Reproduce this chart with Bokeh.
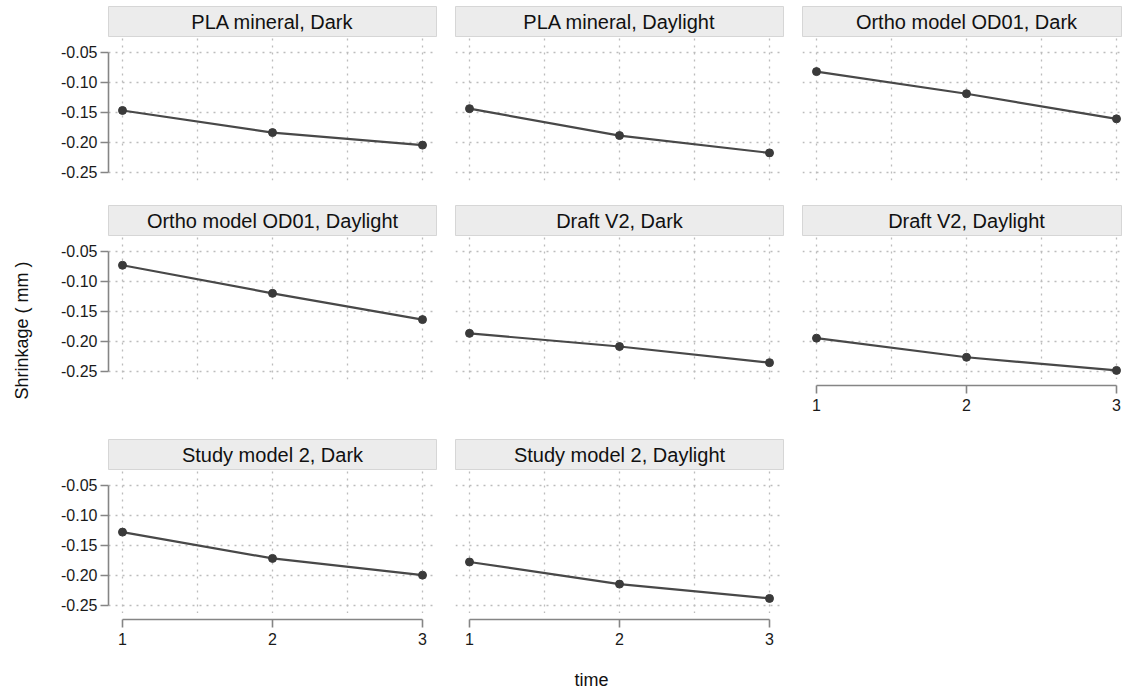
import math
from bokeh.plotting import figure
from bokeh.models import Range1d, LinearAxis, FixedTicker, NumeralTickFormatter, Label, Grid
from bokeh.layouts import row, column
from bokeh.embed import file_html
from bokeh.resources import INLINE

# ---------------- data ----------------
times = [1, 2, 3]
panel_titles = [
    "PLA mineral, Dark", "PLA mineral, Daylight", "Ortho model OD01, Dark",
    "Ortho model OD01, Daylight", "Draft V2, Dark", "Draft V2, Daylight",
    "Study model 2, Dark", "Study model 2, Daylight",
]
pla_dark = [-0.147, -0.184, -0.205]
pla_daylight = [-0.144, -0.189, -0.218]
ortho_dark = [-0.082, -0.119, -0.161]
ortho_daylight = [-0.073, -0.120, -0.164]
draft_dark = [-0.187, -0.209, -0.236]
draft_daylight = [-0.195, -0.227, -0.249]
study_dark = [-0.128, -0.172, -0.200]
study_daylight = [-0.178, -0.215, -0.239]
series = [pla_dark, pla_daylight, ortho_dark, ortho_daylight,
          draft_dark, draft_daylight, study_dark, study_daylight]
y_ticks = [-0.25, -0.20, -0.15, -0.10, -0.05]
x_ticks = [1, 2, 3]
x_grid_ticks = [1, 1.5, 2, 2.5, 3]
y_label = "Shrinkage ( mm )"
x_label = "time"

# ---------------- style ----------------
FONT = "Liberation Sans"
AXIS_COLOR = "#858585"
GRID_COLOR = "#bcbcbc"
LINE_COLOR = "#484848"
DOT_COLOR = "#3a3a3a"
STRIP_FILL = "#ececec"
STRIP_LINE = "#d6d6d6"

FRAME_H = 143
STRIP_H = 31
PX_PER_UNIT = 150.0
X0 = 1 - 14 / PX_PER_UNIT
Y_RANGE = (-0.2642, -0.0249)
TOP_PAD = 6


def col_geom(c):
    # (total width, left border, right border, frame width)
    if c == 0:
        return 407, 60, 19, 328
    if c == 1:
        return 347, 0, 19, 328
    return 320, 0, 0, 320


def base_fig(width, height, x_range, y_range, L, R, T, B):
    f = figure(width=width, height=height, x_range=x_range, y_range=y_range,
               x_axis_location=None, y_axis_location=None,
               toolbar_location=None, output_backend="svg",
               min_border=0, min_border_left=L, min_border_right=R,
               min_border_top=T, min_border_bottom=B)
    f.center = [r for r in f.center if not isinstance(r, Grid)]
    f.outline_line_color = None
    f.background_fill_color = "white"
    f.border_fill_color = "white"
    return f


def style_axis(ax):
    ax.axis_line_color = AXIS_COLOR
    ax.axis_line_width = 1.6
    ax.major_tick_line_color = AXIS_COLOR
    ax.major_tick_line_width = 1.6
    ax.major_tick_out = 8
    ax.major_tick_in = 0
    ax.minor_tick_line_color = None
    ax.major_label_text_font = FONT
    ax.major_label_text_font_size = "16px"
    ax.major_label_text_color = "#1a1a1a"


def make_cell(idx, c, below, with_xaxis, top=0):
    w, L, R, fw = col_geom(c)
    xr = Range1d(X0, X0 + fw / PX_PER_UNIT)
    yr = Range1d(*Y_RANGE)

    # strip
    s = base_fig(w, STRIP_H + top, xr, Range1d(0, 1), L, R, top, 0)
    s.background_fill_color = STRIP_FILL
    s.outline_line_color = STRIP_LINE
    s.outline_line_width = 1
    s.add_layout(Label(x=2, y=0.5, text=panel_titles[idx], text_align="center",
                       text_baseline="middle", text_font=FONT,
                       text_font_size="20px", text_color="#111111"))

    # panel
    pb = 0 if with_xaxis else below
    p = base_fig(w, FRAME_H + pb, xr, yr, L, R, 0, pb)
    for dim, ticks in ((0, x_grid_ticks), (1, y_ticks)):
        g = Grid(dimension=dim, ticker=FixedTicker(ticks=ticks),
                 grid_line_color=GRID_COLOR, grid_line_dash="2 5",
                 grid_line_width=1.3)
        p.add_layout(g, "center")
    vals = series[idx]
    p.line(times, vals, line_color=LINE_COLOR, line_width=2.2)
    p.scatter(times, vals, size=8, fill_color=DOT_COLOR, line_color=DOT_COLOR)
    if c == 0:
        ya = LinearAxis(ticker=FixedTicker(ticks=y_ticks),
                        formatter=NumeralTickFormatter(format="0.00"),
                        bounds=(-0.25, -0.05), major_label_standoff=3)
        style_axis(ya)
        p.add_layout(ya, "left")
    parts = [s, p]

    if with_xaxis:
        a = base_fig(w, below, xr, Range1d(0, 1), L, R, 0, below - 6)
        xa = LinearAxis(ticker=FixedTicker(ticks=x_ticks), bounds=(1, 3),
                        major_label_standoff=5)
        style_axis(xa)
        a.add_layout(xa, "below")
        parts.append(a)
    return column(*parts, spacing=0)


ROW1_BELOW = 205 - TOP_PAD - STRIP_H - FRAME_H
row1 = row(make_cell(0, 0, ROW1_BELOW, False, TOP_PAD),
           make_cell(1, 1, ROW1_BELOW, False, TOP_PAD),
           make_cell(2, 2, ROW1_BELOW, False, TOP_PAD), spacing=0)
row2 = row(make_cell(3, 0, 60, False), make_cell(4, 1, 60, False),
           make_cell(5, 2, 60, True), spacing=0)
row3 = row(make_cell(6, 0, 40, True), make_cell(7, 1, 40, True), spacing=0)

TOTAL_H = 692
YL_W = 48
XL_H = TOTAL_H - (205 + 234 + 214)
xl = base_fig(1074, XL_H, Range1d(0, 1074), Range1d(0, XL_H), 0, 0, 0, 0)
xl.add_layout(Label(x=591 - YL_W, y=3, text=x_label, text_align="center",
                    text_baseline="bottom", text_font=FONT,
                    text_font_size="18px", text_color="#111111"))

yl = base_fig(YL_W, TOTAL_H, Range1d(0, YL_W), Range1d(0, TOTAL_H), 0, 0, 0, 0)
yl.add_layout(Label(x=21, y=TOTAL_H - 330, text=y_label, angle=math.pi / 2,
                    text_align="center", text_baseline="middle", text_font=FONT,
                    text_font_size="18px", text_color="#111111"))

grid = column(row1, row2, row3, xl, spacing=0)
root = row(yl, grid, spacing=0)

open("out.html", "w").write(file_html(root, INLINE))
